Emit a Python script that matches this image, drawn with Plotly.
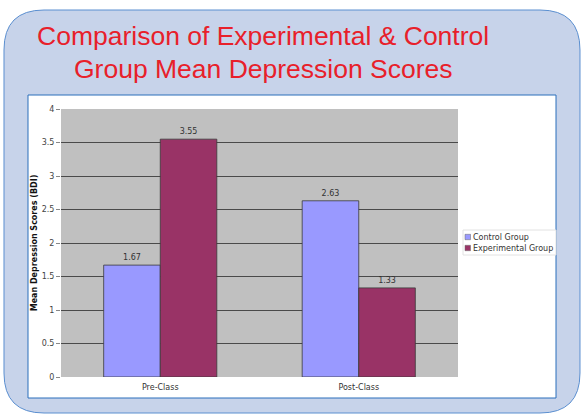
import plotly.graph_objects as go

categories = ["Pre-Class", "Post-Class"]
control_scores = [1.67, 2.63]
experimental_scores = [3.55, 1.33]
series_names = ["Control Group", "Experimental Group"]
series_colors = ["#9999ff", "#993366"]
y_ticks = [0, 0.5, 1, 1.5, 2, 2.5, 3, 3.5, 4]
y_tick_text = ["0", "0.5", "1", "1.5", "2", "2.5", "3", "3.5", "4"]
title_lines = ["Comparison of Experimental & Control", "Group Mean Depression Scores"]

W, H = 581, 415
ML, MR, MT, MB = 61, 123, 109, 38
PW, PH = W - ML - MR, H - MT - MB


def px(x):
    return (x - ML) / PW


def py(y):
    return (H - MB - y) / PH


def rounded_path(x0, y0, x1, y1, r):
    pts = [
        ("M", [(x0 + r, y0)]),
        ("L", [(x1 - r, y0)]),
        ("Q", [(x1, y0), (x1, y0 + r)]),
        ("L", [(x1, y1 - r)]),
        ("Q", [(x1, y1), (x1 - r, y1)]),
        ("L", [(x0 + r, y1)]),
        ("Q", [(x0, y1), (x0, y1 - r)]),
        ("L", [(x0, y0 + r)]),
        ("Q", [(x0, y0), (x0 + r, y0)]),
    ]
    s = ""
    for cmd, ps in pts:
        s += cmd + " " + " ".join(f"{px(a):.5f},{py(b):.5f}" for a, b in ps) + " "
    return s + "Z"


fig = go.Figure()
for name, vals, col in [(series_names[0], control_scores, series_colors[0]),
                        (series_names[1], experimental_scores, series_colors[1])]:
    fig.add_trace(go.Bar(
        x=categories, y=vals, name=name,
        marker=dict(color=col, line=dict(color="#3a3a3a", width=0.8)),
        text=[f"{v:.2f}" for v in vals], textposition="outside",
        textfont=dict(size=8, color="#333333"), cliponaxis=False,
        showlegend=False,
    ))

shapes = [
    dict(type="path", xref="paper", yref="paper", layer="below",
         path=rounded_path(4, 10, 580, 413, 40),
         fillcolor="#c7d3ea", line=dict(color="#5b8fd0", width=1)),
    dict(type="rect", xref="paper", yref="paper", layer="below",
         x0=px(28), x1=px(556), y0=py(398), y1=py(95),
         fillcolor="#ffffff", line=dict(color="#2a6ebb", width=1)),
    dict(type="rect", xref="paper", yref="paper", layer="below",
         x0=0, x1=1, y0=0, y1=1,
         fillcolor="#c0c0c0", line=dict(width=0)),
    dict(type="rect", xref="paper", yref="paper", layer="above",
         x0=px(463), x1=px(556), y0=py(255), y1=py(230),
         fillcolor="#ffffff", line=dict(color="#e2e2e2", width=1)),
]

annotations = [
    dict(text=title_lines[0], x=px(263), y=py(35.5), xref="paper", yref="paper",
         showarrow=False, xanchor="center", yanchor="middle",
         font=dict(family="Liberation Sans, Arial", size=26.5, color="#e8202a")),
    dict(text=title_lines[1], x=px(263), y=py(68.5), xref="paper", yref="paper",
         showarrow=False, xanchor="center", yanchor="middle",
         font=dict(family="Liberation Sans, Arial", size=26.5, color="#e8202a")),
]

legend_rows_y = [237, 248]
for name, col, yy in zip(series_names, series_colors, legend_rows_y):
    shapes.append(dict(type="rect", xref="paper", yref="paper", layer="above",
                       x0=px(465), x1=px(470.5), y0=py(yy + 2.7), y1=py(yy - 2.7),
                       fillcolor=col, line=dict(color="#666666", width=0.5)))
    annotations.append(dict(text=name, x=px(471.5), y=py(yy), xref="paper", yref="paper",
                            showarrow=False, xanchor="left", yanchor="middle",
                            font=dict(size=8, color="#333333"), borderpad=0))

fig.update_layout(
    width=W, height=H,
    margin=dict(l=ML, r=MR, t=MT, b=MB, pad=0),
    paper_bgcolor="#ffffff",
    plot_bgcolor="rgba(0,0,0,0)",
    barmode="group",
    bargap=0.43,
    bargroupgap=0,
    font=dict(family="DejaVu Sans, Verdana", size=8, color="#333333"),
    shapes=shapes,
    annotations=annotations,
    showlegend=False,
)
fig.update_yaxes(
    range=[0, 4], tickvals=y_ticks, ticktext=y_tick_text,
    showgrid=True, gridcolor="#4a4a4a", gridwidth=1.3,
    zeroline=False, showline=False,
    ticks="outside", ticklen=4, tickcolor="#888888",
    tickfont=dict(size=8, color="#444444"),
    title=dict(text="<b>Mean Depression Scores (BDI)</b>", font=dict(size=8, color="#111111"),
               standoff=2),
)
fig.update_xaxes(
    showgrid=False, zeroline=False, showline=False, ticks="",
    tickfont=dict(size=8, color="#333333"), ticklabelstandoff=4,
)

fig.write_html("out.html")
